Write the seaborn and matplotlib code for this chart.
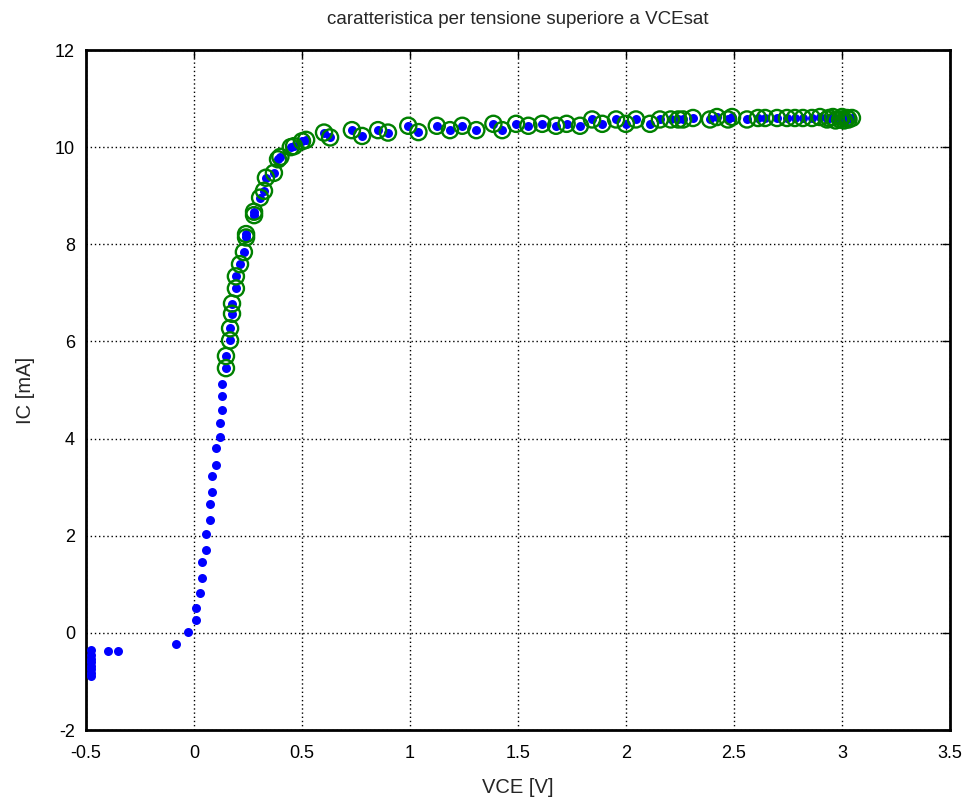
import numpy as np
import pandas as pd
import matplotlib
matplotlib.use("Agg")
import matplotlib.pyplot as plt
import seaborn as sns

# ---- data ----
vce = [-0.478, -0.478, -0.478, -0.478, -0.478, -0.478, -0.478, -0.478,
       -0.398, -0.352, -0.083, -0.028, 0.009, 0.009, 0.028, 0.037, 0.037,
       0.056, 0.056, 0.074, 0.074, 0.083, 0.083, 0.102, 0.102, 0.120, 0.120,
       0.128, 0.128, 0.128,
       0.148, 0.148, 0.167, 0.167, 0.176, 0.176, 0.194, 0.194, 0.213, 0.231,
       0.241, 0.241, 0.278, 0.278, 0.306, 0.324, 0.333, 0.370, 0.389, 0.400,
       0.448, 0.463, 0.500, 0.519, 0.602, 0.630, 0.731, 0.778, 0.852, 0.898,
       0.992, 1.039, 1.124, 1.185, 1.242, 1.307, 1.386, 1.427, 1.491, 1.548,
       1.612, 1.676, 1.725, 1.787, 1.843, 1.890, 1.954, 1.999, 2.046, 2.111,
       2.157, 2.207, 2.242, 2.264, 2.310, 2.389, 2.421, 2.472, 2.491, 2.560,
       2.611, 2.644, 2.699, 2.745, 2.782, 2.819, 2.861, 2.898, 2.931, 2.940,
       2.958, 2.970, 2.991, 3.000, 3.010, 3.023, 3.030, 3.046]
ic = [-0.35, -0.45, -0.53, -0.60, -0.68, -0.75, -0.82, -0.89,
      -0.37, -0.37, -0.23, 0.01, 0.26, 0.51, 0.83, 1.12, 1.45,
      1.70, 2.03, 2.32, 2.65, 2.89, 3.22, 3.46, 3.80, 4.04, 4.33,
      4.58, 4.87, 5.12,
      5.45, 5.70, 6.02, 6.27, 6.57, 6.78, 7.09, 7.34, 7.59, 7.84,
      8.14, 8.21, 8.60, 8.67, 8.96, 9.10, 9.37, 9.47, 9.75, 9.80,
      10.00, 10.02, 10.12, 10.15, 10.30, 10.20, 10.35, 10.23, 10.35, 10.30,
      10.44, 10.31, 10.44, 10.35, 10.44, 10.35, 10.48, 10.35, 10.48, 10.44,
      10.48, 10.44, 10.48, 10.44, 10.57, 10.48, 10.57, 10.48, 10.57, 10.48,
      10.57, 10.57, 10.57, 10.57, 10.60, 10.57, 10.62, 10.57, 10.62, 10.57,
      10.60, 10.60, 10.60, 10.60, 10.60, 10.60, 10.60, 10.62, 10.57, 10.60,
      10.62, 10.55, 10.57, 10.62, 10.55, 10.60, 10.57, 10.60]
sat_threshold = 5.3  # points above VCEsat region are circled

xticks = [-0.5, 0, 0.5, 1, 1.5, 2, 2.5, 3, 3.5]
xticklabels = ["-0.5", "0", "0.5", "1", "1.5", "2", "2.5", "3", "3.5"]
yticks = [-2, 0, 2, 4, 6, 8, 10, 12]
yticklabels = ["-2", "0", "2", "4", "6", "8", "10", "12"]

title = "caratteristica per tensione superiore a VCEsat"
xlabel = "VCE [V]"
ylabel = "IC [mA]"

df = pd.DataFrame({"VCE": vce, "IC": ic})
df_sat = df[df["IC"] > sat_threshold]

sns.set_style("white")
plt.rcParams["font.family"] = ["Liberation Sans", "DejaVu Sans"]

fig = plt.figure(figsize=(9.68, 8.05), dpi=100)
ax = fig.add_axes([86 / 968, 1 - 730 / 805, (950 - 86) / 968, (730 - 50) / 805])

sns.scatterplot(data=df, x="VCE", y="IC", ax=ax, color="#0000ff",
                s=42, linewidth=0, marker="o", zorder=3)
sns.scatterplot(data=df_sat, x="VCE", y="IC", ax=ax, s=135,
                facecolors="none", edgecolor="#008000", linewidth=1.7,
                marker="o", zorder=4)

ax.set_xlim(-0.5, 3.5)
ax.set_ylim(-2, 12)
ax.set_xticks(xticks)
ax.set_xticklabels(xticklabels)
ax.set_yticks(yticks)
ax.set_yticklabels(yticklabels)

ax.grid(True, color="black", linestyle=(0, (1, 2)), linewidth=1.0)
ax.set_axisbelow(True)
for sp in ax.spines.values():
    sp.set_visible(True)
    sp.set_color("black")
    sp.set_linewidth(2)

ax.tick_params(direction="in", length=6, width=1, colors="black",
               top=True, right=True, labelsize=13)
ax.tick_params(axis="x", pad=11)
ax.tick_params(axis="y", pad=8)

ax.set_title(title, fontsize=13.5, pad=19)
ax.set_xlabel(xlabel, fontsize=14.5, labelpad=11)
ax.set_ylabel(ylabel, fontsize=14.5, labelpad=14)

fig.savefig("out.png", dpi=100)
